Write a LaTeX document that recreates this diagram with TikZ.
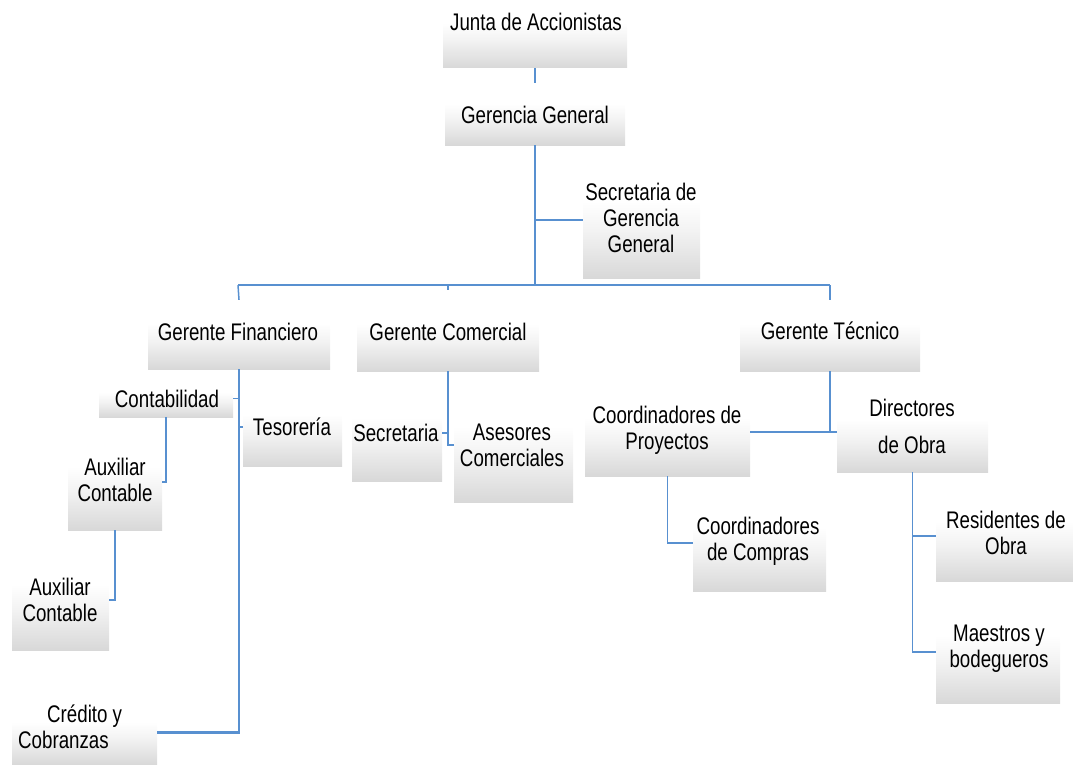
\documentclass[tikz,border=0pt]{standalone}
\usepackage{fontspec}
\setmainfont{Liberation Sans}[FakeStretch=0.78]
\usetikzlibrary{calc}
\definecolor{ln}{RGB}{88,144,208}
\definecolor{boxbot}{RGB}{216,216,216}
\pgfdeclareverticalshading{boxsh}{100bp}{color(0bp)=(boxbot); color(25bp)=(boxbot); color(45bp)=(white!95!black); color(58bp)=(white); color(100bp)=(white)}
\newcommand\obox[5]{\node[obox, minimum width={(#4-#2)*1pt}, minimum height={(#5-#3)*1pt}] (#1) at ({(#2+#4)/2},{(#3+#5)/2}) {};}
\begin{document}
\begin{tikzpicture}[x=1pt,y=-1pt,
  obox/.style={rectangle, inner sep=0pt, draw=none, shading=boxsh},
  otext/.style={inner sep=0pt, align=center, font=\fontsize{24}{26}\selectfont},
  thk/.style={draw=ln, line width=2.4pt},
  thn/.style={draw=ln, line width=1.5pt}]
\useasboundingbox (0,0) rectangle (1073,765);
% boxes
\obox{junta}{443}{0}{627}{68}
\obox{gg}{445}{83}{625}{145}
\obox{sgg}{583}{162}{700}{278}
\obox{gf}{148}{300}{330}{369}
\obox{gc}{357}{300}{539}{371}
\obox{gt}{740}{300}{920}{371}
\obox{cont}{99}{380}{233}{417}
\obox{tes}{243}{388}{342}{466}
\obox{aux1}{68}{434}{162}{530}
\obox{aux2}{12}{550}{109}{650}
\obox{cred}{12}{700}{157}{765}
\obox{sec}{352}{385}{442}{481}
\obox{ase}{454}{388}{573}{502}
\obox{cp}{585}{388}{750}{476}
\obox{dir}{837}{392}{988}{472}
\obox{cc}{693}{495}{826}{591}
\obox{res}{936}{491}{1073}{581}
\obox{mae}{936}{601}{1060}{703}
% texts
\node[otext] (junta-t) at (536,22) {Junta de Accionistas};
\node[otext] (gg-t) at (535,115) {Gerencia General};
\node[otext] (sgg-t) at (641,218) {Secretaria de\\Gerencia\\General};
\node[otext] (gf-t) at (238,332) {Gerente Financiero};
\node[otext] (gc-t) at (448,332) {Gerente Comercial};
\node[otext] (gt-t) at (830,331) {Gerente Técnico};
\node[otext] (cont-t) at (167,399) {Contabilidad};
\node[otext] (tes-t) at (292,427) {Tesorería};
\node[otext] (aux1-t) at (115,480) {Auxiliar\\Contable};
\node[otext] (aux2-t) at (60,600) {Auxiliar\\Contable};
\node[otext, align=left, anchor=west] (cred-t) at (18,727) {\hspace*{29pt}Crédito y\\Cobranzas};
\node[otext] (sec-t) at (396,433) {Secretaria};
\node[otext] (ase-t) at (512,445) {Asesores\\Comerciales};
\node[otext] (cp-t) at (667,430) {Coordinadores de\\Proyectos};
\node[otext] (dir-t) at (912,426) {Directores\\[11pt]de Obra};
\node[otext] (cc-t) at (758,541) {Coordinadores\\de Compras};
\node[otext] (res-t) at (1006,533) {Residentes de\\Obra};
\node[otext] (mae-t) at (999,649) {Maestros y\\bodegueros};
% connectors
\coordinate (barL) at (238,285);
\coordinate (barR) at (830,285);
\draw[thn] (junta.south) -- (gg.north);
\draw[thk] (gg.south) -- (gg.south |- barL);
\draw[thn] (gg.south |- sgg.west) -- (sgg.west);
\draw[thk] (barL) -- (barR);
\draw[thn] (barL) -- (gf.north);
\draw[thn] (gc.north |- barL) -- ([yshift=-5pt]gc.north |- barL);
\draw[thn] (barR) -- (gt.north);
% financiero
\draw[thk] (gf.south) |- (cred.east);
\draw[thn] (gf.south |- cont.east) -- (cont.east);
\draw[thn] (gf.south |- tes.west) -- (tes.west);
\draw[thn] (cont.south) |- (aux1.east);
\draw[thn] (aux1.south) |- (aux2.east);
% comercial
\draw[thn] (gc.south) |- (ase.west);
\draw[thn] (gc.south |- sec.east) -- (sec.east);
% tecnico
\draw[thk] (gt.south) |- (cp.east);
\draw[thn] (gt.south |- dir.west) -- (dir.west);
\draw[thn] (cp.south) |- (cc.west);
\draw[thn] (dir.south) |- (mae.west);
\draw[thn] (dir.south |- res.west) -- (res.west);
\end{tikzpicture}
\end{document}
